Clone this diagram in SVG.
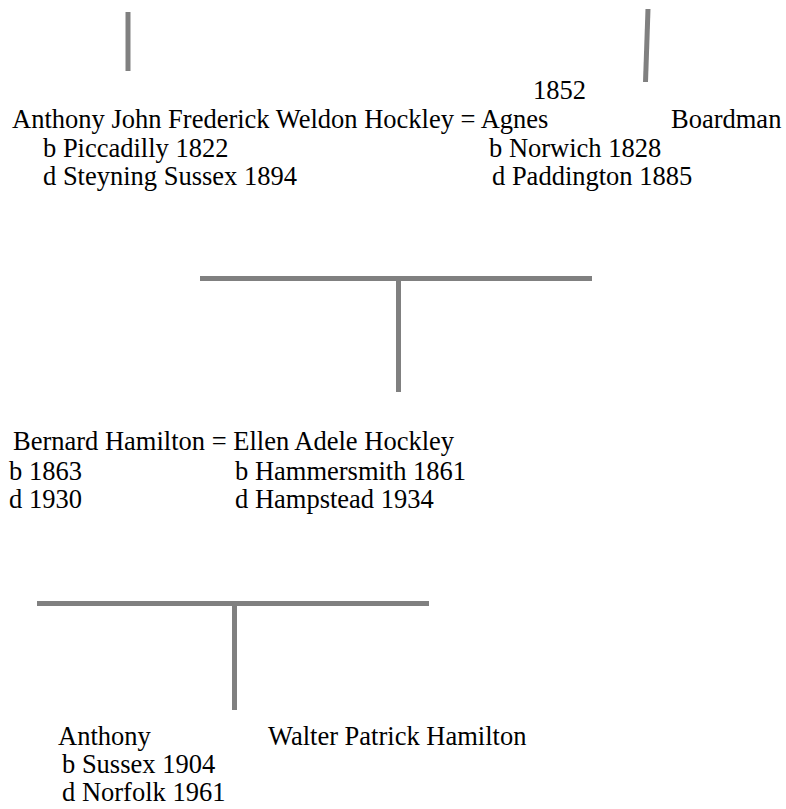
<svg xmlns="http://www.w3.org/2000/svg" width="786" height="809" viewBox="0 0 786 809">
<style>
text { font-family: "Liberation Serif", "Times New Roman", serif; font-size: 26.5px; fill: #000; }
.ln { stroke: #808080; stroke-width: 5; fill: none; stroke-linecap: butt; }
</style>
<rect width="786" height="809" fill="#fff"/>
<g id="connectors">
  <line class="ln" x1="128" y1="12" x2="128" y2="71"/>
  <line class="ln" x1="648" y1="9" x2="645.5" y2="82"/>
  <line class="ln" x1="200" y1="278.5" x2="592" y2="278.5"/>
  <line class="ln" x1="398.5" y1="281" x2="398.5" y2="392"/>
  <line class="ln" x1="37" y1="603.5" x2="429" y2="603.5"/>
  <line class="ln" x1="234.5" y1="606" x2="234.5" y2="710"/>
</g>
<g id="marriage1">
  <text x="533" y="99">1852</text>
</g>
<g id="anthony-john">
  <text x="12" y="128">Anthony John Frederick Weldon Hockley = Agnes</text>
  <text x="43" y="157">b Piccadilly 1822</text>
  <text x="43" y="185">d Steyning Sussex 1894</text>
</g>
<g id="agnes">
  <text x="671" y="128">Boardman</text>
  <text x="489" y="157">b Norwich 1828</text>
  <text x="492" y="185">d Paddington 1885</text>
</g>
<g id="bernard">
  <text x="13" y="450">Bernard Hamilton = Ellen Adele Hockley</text>
  <text x="9" y="480">b 1863</text>
  <text x="9" y="508">d 1930</text>
</g>
<g id="ellen">
  <text x="235" y="480">b Hammersmith 1861</text>
  <text x="235" y="508">d Hampstead 1934</text>
</g>
<g id="anthony">
  <text x="58" y="745">Anthony</text>
  <text x="62" y="773">b Sussex 1904</text>
  <text x="62" y="801">d Norfolk 1961</text>
</g>
<g id="walter">
  <text x="268" y="745">Walter Patrick Hamilton</text>
</g>
</svg>
